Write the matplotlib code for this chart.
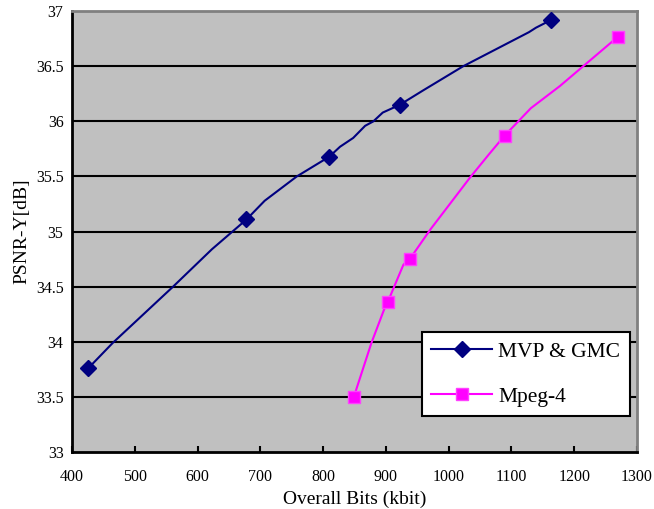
import matplotlib
matplotlib.use("Agg")
import matplotlib.pyplot as plt

plt.rcParams['font.family'] = ['Liberation Serif', 'DejaVu Serif']

# MVP & GMC curve (markers only on the measured points)
mvp_x = [426, 465, 561, 623, 678, 707, 758, 810, 827, 848, 867, 880, 895, 922, 959, 1023, 1128, 1139, 1163]
mvp_y = [33.76, 33.99, 34.50, 34.84, 35.11, 35.28, 35.50, 35.68, 35.77, 35.85, 35.96, 36.00, 36.08, 36.15,
         36.28, 36.50, 36.81, 36.85, 36.92]
mvp_marks = [0, 4, 7, 13, 18]

# Mpeg-4 curve
mp4_x = [849, 877, 897, 903, 911, 928, 938, 971, 1034, 1064, 1089, 1131, 1177, 1270]
mp4_y = [33.50, 33.99, 34.29, 34.36, 34.47, 34.70, 34.75, 35.02, 35.49, 35.70, 35.87, 36.12, 36.32, 36.77]
mp4_marks = [0, 3, 6, 10, 13]

x_ticks = [400, 500, 600, 700, 800, 900, 1000, 1100, 1200, 1300]
y_ticks = [33, 33.5, 34, 34.5, 35, 35.5, 36, 36.5, 37]
y_labels = ['33', '33.5', '34', '34.5', '35', '35.5', '36', '36.5', '37']

fig = plt.figure(figsize=(6.54, 5.09), dpi=100)
ax = fig.add_axes([0.110, 0.112, 0.864, 0.866])
ax.set_facecolor('#c0c0c0')

for y in y_ticks[1:-1]:
    ax.axhline(y, color='black', lw=1.5, zorder=1)

ax.plot(mvp_x, mvp_y, color='#000080', lw=1.5, marker='D', markersize=8,
        markevery=mvp_marks, markerfacecolor='#000080', markeredgecolor='#000080',
        label='MVP & GMC', zorder=3)
ax.plot(mp4_x, mp4_y, color='#ff00ff', lw=1.5, marker='s', markersize=8,
        markevery=mp4_marks, markerfacecolor='#ff00ff', markeredgecolor='#ff40ff',
        label='Mpeg-4', zorder=3)

ax.set_xlim(400, 1300)
ax.set_ylim(33, 37)
ax.set_xticks(x_ticks)
ax.set_yticks(y_ticks)
ax.set_yticklabels(y_labels)
ax.tick_params(axis='x', direction='in', length=4, width=1.5, labelsize=11.5, pad=12)
ax.tick_params(axis='y', length=0, labelsize=11.5, pad=6)

for s in ['left', 'bottom']:
    ax.spines[s].set_color('black')
    ax.spines[s].set_linewidth(2)
for s in ['top', 'right']:
    ax.spines[s].set_color('#808080')
    ax.spines[s].set_linewidth(2)

ax.set_xlabel('Overall Bits (kbit)', fontsize=14, labelpad=4)
ax.set_ylabel('PSNR-Y[dB]', fontsize=14, labelpad=4)

leg = ax.legend(loc='upper left', bbox_to_anchor=(0.619, 0.272), borderaxespad=0, fontsize=15.5,
                frameon=True, fancybox=False, framealpha=1, edgecolor='black',
                borderpad=0.45, labelspacing=1.15, handlelength=2.8, handletextpad=0.3)
leg.get_frame().set_linewidth(1.5)

fig.savefig('out.png', dpi=100)
